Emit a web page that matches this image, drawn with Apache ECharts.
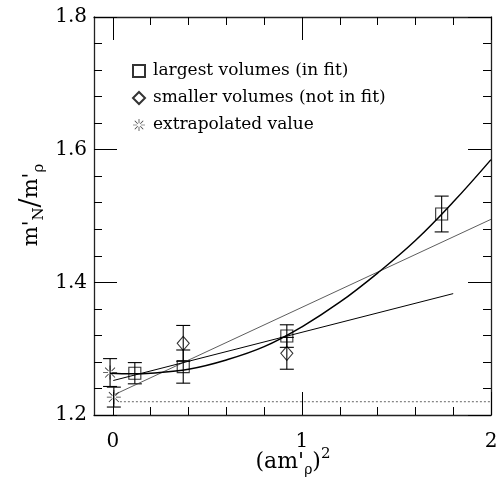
<!DOCTYPE html>
<html><head><meta charset="utf-8">
<script src="https://cdn.jsdelivr.net/npm/echarts@6/dist/echarts.min.js"></script>
<style>html,body{margin:0;padding:0;background:#fff}#c{width:496px;height:485px}</style>
</head><body><div id="c"></div>
<script>
// ---- data ----
const squaresX = [0.116, 0.372, 0.92, 1.739];
const squaresY = [1.263, 1.273, 1.319, 1.503];
const squaresErr = [0.016, 0.025, 0.017, 0.027];

const diamondsX = [0.372, 0.92];
const diamondsY = [1.308, 1.293];
const diamondsErr = [0.027, 0.024];

const starsX = [-0.015, 0.005];
const starsY = [1.264, 1.227];
const starsErr = [0.021, 0.015];

// fit curve, points
const curveX = [-0.015, 0.1, 0.2, 0.4, 0.6, 0.8, 1.0, 1.2, 1.4, 1.6, 1.8, 2.0];
const curveY = [1.263, 1.262, 1.263, 1.269, 1.283, 1.303, 1.333, 1.370, 1.414, 1.463, 1.521, 1.585];

// linear fits
const lineAX = [0.01, 2.0];
const lineAY = [1.231, 1.495];
const lineBX = [0.002, 1.8];
const lineBY = [1.252, 1.383];

// dotted reference line
const refX = [0.037, 2.0];
const refY = [1.22, 1.22];

const xMajorTicks = [0, 1, 2];
const xMinorTicks = [0.2, 0.4, 0.6, 0.8, 1.2, 1.4, 1.6, 1.8];
const yMajorTicks = [1.2, 1.4, 1.6, 1.8];
const yMinorTicks = [1.24, 1.28, 1.32, 1.36, 1.44, 1.48, 1.52, 1.56, 1.64, 1.68, 1.72, 1.76];

const legendNames = ['largest volumes (in fit)', 'smaller volumes (not in fit)', 'extrapolated value'];

// ---- build ----
const zip = (xs, ys) => xs.map((x, i) => [x, ys[i]]);
const errData = [];
[[squaresX, squaresY, squaresErr], [diamondsX, diamondsY, diamondsErr], [starsX, starsY, starsErr]]
  .forEach(([xs, ys, es]) => xs.forEach((x, i) => errData.push([x, ys[i] - es[i], ys[i] + es[i]])));

const FONT = 'DejaVu Serif';
const starPath = 'path://M13,9.4L20,9.4L20,10.6L13,10.6Z M0,9.4L7,9.4L7,10.6L0,10.6Z M9.4,0L10.6,0L10.6,7L9.4,7Z M9.4,13L10.6,13L10.6,20L9.4,20Z ' +
  'M11.7,12.54L16.65,17.49L17.49,16.65L12.54,11.7Z M8.3,7.46L3.35,2.51L2.51,3.35L7.46,8.3Z ' +
  'M12.54,8.3L17.49,3.35L16.65,2.51L11.7,7.46Z M7.46,11.7L2.51,16.65L3.35,17.49L8.3,12.54Z';

function xAx(pos, ticks, len, showLabel, showLine) {
  return {
    type: 'value', position: pos, min: -0.1, max: 2,
    axisLine: { show: showLine, onZero: false, lineStyle: { color: '#222', width: 1.3 } },
    axisTick: { show: true, inside: true, length: len, customValues: ticks, lineStyle: { color: '#000', width: 1 } },
    axisLabel: { show: showLabel, customValues: ticks, margin: 17, color: '#000', fontFamily: FONT, fontSize: 20,
      hideOverlap: false },
    splitLine: { show: false }
  };
}
function yAx(pos, ticks, len, showLabel, showLine) {
  return {
    type: 'value', position: pos, min: 1.2, max: 1.8,
    axisLine: { show: showLine, onZero: false, lineStyle: { color: '#222', width: 1.3 } },
    axisTick: { show: true, inside: true, length: len, customValues: ticks, lineStyle: { color: '#000', width: 1 } },
    axisLabel: { show: showLabel, customValues: ticks, margin: 7, color: '#000', fontFamily: FONT, fontSize: 20,
      formatter: v => v.toFixed(1) },
    splitLine: { show: false }
  };
}

const chart = echarts.init(document.getElementById('c'), null, { renderer: 'canvas' });
chart.setOption({
  animation: false,
  backgroundColor: '#fff',
  grid: { left: 94, right: 5, top: 17, bottom: 70, containLabel: false, outerBoundsMode: 'none' },
  xAxis: [
    xAx('bottom', xMajorTicks, 23, true, true),
    xAx('bottom', xMinorTicks, 8, false, false),
    xAx('top', xMajorTicks, 23, false, true),
    xAx('top', xMinorTicks, 8, false, false)
  ],
  yAxis: [
    yAx('left', yMajorTicks, 23, true, true),
    yAx('left', yMinorTicks, 8, false, false),
    yAx('right', yMajorTicks, 23, false, true),
    yAx('right', yMinorTicks, 8, false, false)
  ],
  legend: {
    data: legendNames,
    orient: 'vertical', left: 127, top: 57,
    itemWidth: 12, itemHeight: 12, itemGap: 9,
    textStyle: { fontFamily: FONT, fontSize: 17, color: '#000', lineHeight: 18, padding: [0, 0, 0, 3] },
    selectedMode: false
  },
  graphic: [
    {
      type: 'text', x: 293, y: 462,
      style: {
        text: '{m|(am\'}{s|ρ}{m|)}{p|2}',
        align: 'center', verticalAlign: 'middle',
        fill: '#000',
        rich: {
          m: { fontFamily: FONT, fontSize: 22, lineHeight: 30, verticalAlign: 'middle', fill: '#000' },
          s: { fontFamily: FONT, fontSize: 14, lineHeight: 14, verticalAlign: 'bottom', fill: '#000' },
          p: { fontFamily: FONT, fontSize: 15, lineHeight: 15, verticalAlign: 'top', fill: '#000' }
        }
      }
    },
    {
      type: 'text', x: 32, y: 205, rotation: Math.PI / 2,
      style: {
        text: '{m|m\'}{s|N}{d|/}{m|m\'}{s|ρ}',
        align: 'center', verticalAlign: 'middle',
        fill: '#000',
        rich: {
          m: { fontFamily: FONT, fontSize: 21, lineHeight: 30, verticalAlign: 'middle', fill: '#000' },
          d: { fontFamily: FONT, fontSize: 27, lineHeight: 30, verticalAlign: 'middle', fill: '#000' },
          s: { fontFamily: FONT, fontSize: 15, lineHeight: 15, verticalAlign: 'bottom', fill: '#000' }
        }
      }
    }
  ],
  series: [
    {
      type: 'line', data: zip(refX, refY), symbol: 'none', silent: true,
      lineStyle: { color: '#666', width: 1, type: [2, 2] }
    },
    {
      type: 'line', data: zip(lineAX, lineAY), symbol: 'none', silent: true,
      lineStyle: { color: '#333', width: 0.8 }
    },
    {
      type: 'line', data: zip(lineBX, lineBY), symbol: 'none', silent: true,
      lineStyle: { color: '#000', width: 1 }
    },
    {
      type: 'line', data: zip(curveX, curveY), symbol: 'none', smooth: 0.4, silent: true,
      lineStyle: { color: '#000', width: 1.5 }
    },
    {
      type: 'custom', silent: true, data: errData,
      renderItem: function (params, api) {
        const x = api.value(0);
        const lo = api.coord([x, api.value(1)]);
        const hi = api.coord([x, api.value(2)]);
        const w = 7;
        const st = { stroke: '#000', lineWidth: 1.1 };
        return {
          type: 'group',
          children: [
            { type: 'line', shape: { x1: lo[0], y1: lo[1], x2: hi[0], y2: hi[1] }, style: st },
            { type: 'line', shape: { x1: lo[0] - w, y1: lo[1], x2: lo[0] + w, y2: lo[1] }, style: st },
            { type: 'line', shape: { x1: hi[0] - w, y1: hi[1], x2: hi[0] + w, y2: hi[1] }, style: st }
          ]
        };
      }
    },
    {
      name: legendNames[0], type: 'scatter', data: zip(squaresX, squaresY),
      symbol: 'rect', symbolSize: 12,
      itemStyle: { color: 'rgba(0,0,0,0)', borderColor: '#000', borderWidth: 1.1 }
    },
    {
      name: legendNames[1], type: 'scatter', data: zip(diamondsX, diamondsY),
      symbol: 'diamond', symbolSize: [12, 14],
      itemStyle: { color: 'rgba(0,0,0,0)', borderColor: '#000', borderWidth: 1.1 }
    },
    {
      name: legendNames[2], type: 'scatter', data: zip(starsX, starsY),
      symbol: starPath, symbolSize: 14,
      itemStyle: { color: '#000' }
    }
  ]
});
</script>
</body></html>
